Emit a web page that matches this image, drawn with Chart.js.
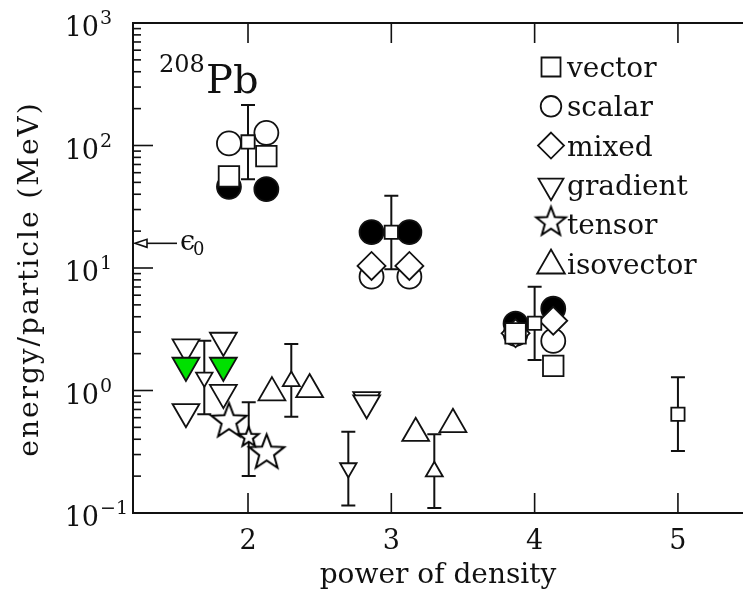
<!DOCTYPE html>
<html>
<head>
<meta charset="utf-8">
<script src="https://cdn.jsdelivr.net/npm/chart.js@4.4.0/dist/chart.umd.min.js"></script>
<style>
  html, body { margin: 0; padding: 0; background: #fff; overflow: hidden; }
  canvas { display: block; }
</style>
</head>
<body>
<canvas id="grafico" width="743" height="590"></canvas>
<script>
// Datos (x = potencia de la densidad, y = energia/particula en MeV)
const vectorX = [1.867, 2.128, 3.867, 4.13];
const vectorY = [56, 82, 2.93, 1.59];
const vectorErrX = [2.0, 3.0, 4.0, 5.0];
const vectorErrY = [107, 19.6, 3.54, 0.64];
const vectorErrLo = [53, 9.76, 1.77, 0.32];
const vectorErrHi = [214, 38.9, 7.03, 1.28];

const scalarX = [1.867, 2.128, 2.862, 3.126, 3.867, 4.13];
const scalarY = [104, 127, 8.5, 8.5, 2.9, 2.54];
const filledX = [1.867, 2.128, 2.862, 3.126, 3.867, 4.13];
const filledY = [46, 44, 19.6, 19.6, 3.51, 4.65];

const mixedX = [2.862, 3.126, 3.867, 4.13];
const mixedY = [10.4, 10.4, 2.93, 3.71];

const gradientX = [1.567, 1.828, 1.567, 1.828, 2.828, 2.828];
const gradientY = [2.26, 2.56, 0.67, 0.96, 0.84, 0.79];
const gradientGreenX = [1.567, 1.828];
const gradientGreenY = [1.60, 1.60];
const gradientErrX = [1.695, 2.70];
const gradientErrY = [1.28, 0.233];
const gradientErrLo = [0.64, 0.115];
const gradientErrHi = [2.55, 0.46];

const tensorX = [1.867, 2.13];
const tensorY = [0.56, 0.31];
const tensorErrX = [2.005];
const tensorErrY = [0.415];
const tensorErrLo = [0.20];
const tensorErrHi = [0.80];

const isovectorX = [2.167, 2.43, 3.17, 3.43];
const isovectorY = [0.96, 1.02, 0.448, 0.53];
const isovectorErrX = [2.302, 3.30];
const isovectorErrY = [1.19, 0.218];
const isovectorErrLo = [0.61, 0.11];
const isovectorErrHi = [2.4, 0.44];

const epsilon0 = 15.9;

const xTicks = [2, 3, 4, 5];
const yDecades = [0.1, 1, 10, 100, 1000];
const yExponents = ['\u22121', '0', '1', '2', '3'];
const legendLabels = ['vector', 'scalar', 'mixed', 'gradient', 'tensor', 'isovector'];

const FONT = '"DejaVu Serif", "Liberation Serif", serif';
const INK = '#111';

function puntos(xs, ys) {
    return xs.map((x, i) => ({ x: x, y: ys[i] }));
}

// Estrella de cinco puntas como imagen para pointStyle
function hacerEstrella(R, lw) {
    const s = Math.ceil(2 * R + 2 * lw + 4);
    const c = document.createElement('canvas');
    c.width = s; c.height = s;
    const g = c.getContext('2d');
    g.beginPath();
    for (let i = 0; i < 10; i++) {
        const r = i % 2 ? R * 0.42 : R;
        const a = -Math.PI / 2 + i * Math.PI / 5;
        g.lineTo(s / 2 + r * Math.cos(a), s / 2 + r * Math.sin(a));
    }
    g.closePath();
    g.fillStyle = '#fff';
    g.fill();
    g.lineWidth = lw;
    g.lineJoin = 'miter';
    g.strokeStyle = '#000';
    g.stroke();
    return c;
}

const estrellaGrande = hacerEstrella(18.5, 2);
const estrellaChica = hacerEstrella(10.5, 2);
const estrellaLeyenda = hacerEstrella(15.5, 2);

function serie(label, data, estilo) {
    return Object.assign({
        label: label,
        data: data,
        showLine: false,
        backgroundColor: '#fff',
        borderColor: INK,
        borderWidth: 1.8,
        pointBorderWidth: 1.8,
        pointHoverRadius: 0
    }, estilo);
}

const datasets = [
    serie('filled', puntos(filledX, filledY), { pointStyle: 'circle', pointRadius: 12, backgroundColor: '#000', order: 6 }),
    serie('scalar', puntos(scalarX, scalarY), { pointStyle: 'circle', pointRadius: 12, order: 5 }),
    serie('mixed', puntos(mixedX, mixedY), { pointStyle: 'rectRot', pointRadius: 14, order: 4 }),
    serie('vector', puntos(vectorX, vectorY), { pointStyle: 'rect', pointRadius: 14.5, order: 3 }),
    serie('vector err', puntos(vectorErrX, vectorErrY), { pointStyle: 'rect', pointRadius: 9.4, order: 1 }),
    serie('gradient', puntos(gradientX, gradientY), { pointStyle: 'triangle', pointRotation: 180, pointRadius: 15.5, order: 3 }),
    serie('gradient green', puntos(gradientGreenX, gradientGreenY), { pointStyle: 'triangle', pointRotation: 180, pointRadius: 15.5, backgroundColor: '#00e000', order: 2 }),
    serie('gradient err', puntos(gradientErrX, gradientErrY), { pointStyle: 'triangle', pointRotation: 180, pointRadius: 9.5, order: 1 }),
    serie('tensor', puntos(tensorX, tensorY), { pointStyle: estrellaGrande, order: 2 }),
    serie('tensor err', puntos(tensorErrX, tensorErrY), { pointStyle: estrellaChica, order: 1 }),
    serie('isovector', puntos(isovectorX, isovectorY), { pointStyle: 'triangle', pointRadius: 15.5, order: 3 }),
    serie('isovector err', puntos(isovectorErrX, isovectorErrY), { pointStyle: 'triangle', pointRadius: 9.8, order: 1 })
];

const barrasError = [
    [vectorErrX, vectorErrLo, vectorErrHi],
    [gradientErrX, gradientErrLo, gradientErrHi],
    [tensorErrX, tensorErrLo, tensorErrHi],
    [isovectorErrX, isovectorErrLo, isovectorErrHi]
];

// Marcadores de la leyenda
function marcador(ctx, tipo, x, y) {
    ctx.save();
    ctx.lineWidth = 1.8;
    ctx.strokeStyle = INK;
    ctx.fillStyle = '#fff';
    ctx.beginPath();
    if (tipo === 'vector') {
        ctx.rect(x - 9.5, y - 9.5, 19, 19);
    } else if (tipo === 'scalar') {
        ctx.arc(x, y, 10.3, 0, Math.PI * 2);
    } else if (tipo === 'mixed') {
        ctx.moveTo(x, y - 13); ctx.lineTo(x + 13, y); ctx.lineTo(x, y + 13); ctx.lineTo(x - 13, y); ctx.closePath();
    } else if (tipo === 'gradient') {
        const r = 14.4;
        ctx.moveTo(x, y + r); ctx.lineTo(x + r * 0.866, y - r / 2); ctx.lineTo(x - r * 0.866, y - r / 2); ctx.closePath();
    } else if (tipo === 'isovector') {
        const r = 16;
        ctx.moveTo(x, y - r); ctx.lineTo(x + r * 0.866, y + r / 2); ctx.lineTo(x - r * 0.866, y + r / 2); ctx.closePath();
    } else if (tipo === 'tensor') {
        ctx.drawImage(estrellaLeyenda, x - estrellaLeyenda.width / 2, y - estrellaLeyenda.height / 2);
        ctx.restore();
        return;
    }
    ctx.fill();
    ctx.stroke();
    ctx.restore();
}

const ejesPlugin = {
    id: 'ejesPlugin',
    beforeDatasetsDraw(chart) {
        const ctx = chart.ctx;
        const xs = chart.scales.x, ys = chart.scales.y;
        ctx.save();
        ctx.strokeStyle = INK;
        ctx.lineWidth = 2;
        barrasError.forEach(([bx, lo, hi]) => {
            bx.forEach((x, i) => {
                const px = xs.getPixelForValue(x);
                const p1 = ys.getPixelForValue(lo[i]);
                const p2 = ys.getPixelForValue(hi[i]);
                ctx.beginPath();
                ctx.moveTo(px, p1); ctx.lineTo(px, p2);
                ctx.moveTo(px - 7, p1); ctx.lineTo(px + 7, p1);
                ctx.moveTo(px - 7, p2); ctx.lineTo(px + 7, p2);
                ctx.stroke();
            });
        });
        ctx.restore();
    },
    afterDraw(chart) {
        const ctx = chart.ctx;
        const a = chart.chartArea;
        const xs = chart.scales.x, ys = chart.scales.y;
        ctx.save();
        ctx.strokeStyle = INK;
        ctx.fillStyle = INK;
        ctx.lineWidth = 2;

        // marco
        ctx.beginPath();
        ctx.moveTo(a.right + 2, a.top); ctx.lineTo(a.left, a.top);
        ctx.lineTo(a.left, a.bottom); ctx.lineTo(a.right + 2, a.bottom);
        ctx.stroke();

        // marcas del eje x (hacia dentro, abajo y arriba)
        ctx.lineWidth = 1.6;
        xTicks.forEach(t => {
            const px = xs.getPixelForValue(t);
            ctx.beginPath();
            ctx.moveTo(px, a.bottom); ctx.lineTo(px, a.bottom - 20);
            ctx.moveTo(px, a.top); ctx.lineTo(px, a.top + 20);
            ctx.stroke();
        });

        // marcas del eje y (logaritmico)
        yDecades.forEach((d, k) => {
            const py = ys.getPixelForValue(d);
            ctx.beginPath();
            ctx.moveTo(a.left, py); ctx.lineTo(a.left + 20, py);
            ctx.stroke();
            if (k < yDecades.length - 1) {
                for (let m = 2; m <= 9; m++) {
                    const pm = ys.getPixelForValue(d * m);
                    ctx.beginPath();
                    ctx.moveTo(a.left, pm); ctx.lineTo(a.left + 8, pm);
                    ctx.stroke();
                }
            }
        });

        // etiquetas de marcas
        ctx.textBaseline = 'alphabetic';
        yDecades.forEach((d, k) => {
            const py = ys.getPixelForValue(d);
            ctx.font = '27px ' + FONT;
            ctx.textAlign = 'right';
            ctx.fillText('10', 99, py + 13);
            ctx.font = '19px ' + FONT;
            ctx.textAlign = 'left';
            ctx.fillText(yExponents[k], 100, py + 1);
        });
        ctx.font = '27px ' + FONT;
        ctx.textAlign = 'center';
        xTicks.forEach(t => {
            ctx.fillText(String(t), xs.getPixelForValue(t), 549);
        });

        // titulos de ejes
        ctx.font = '28px ' + FONT;
        ctx.fillText('power of density', (a.left + a.right) / 2, 583);
        ctx.save();
        ctx.translate(38, (a.top + a.bottom) / 2 + 11);
        ctx.rotate(-Math.PI / 2);
        ctx.letterSpacing = '2px';
        ctx.fillText('energy/particle (MeV)', 0, 0);
        ctx.restore();

        // etiqueta del nucleo
        ctx.textAlign = 'left';
        ctx.font = '24px ' + FONT;
        ctx.fillText('208', 159, 72);
        ctx.font = '40px ' + FONT;
        ctx.fillText('Pb', 206, 93);

        // flecha epsilon_0
        const pe = ys.getPixelForValue(epsilon0);
        ctx.lineWidth = 1.6;
        ctx.beginPath();
        ctx.moveTo(177, pe); ctx.lineTo(a.left + 13, pe);
        ctx.stroke();
        ctx.beginPath();
        ctx.moveTo(a.left + 2, pe); ctx.lineTo(a.left + 14, pe - 4); ctx.lineTo(a.left + 14, pe + 4); ctx.closePath();
        ctx.fillStyle = '#fff';
        ctx.fill();
        ctx.stroke();
        ctx.fillStyle = INK;
        ctx.font = '27px ' + FONT;
        ctx.fillText('\u03f5', 180, pe + 7);
        ctx.font = '18px ' + FONT;
        ctx.fillText('0', 193, pe + 12);

        // leyenda
        legendLabels.forEach((lab, i) => {
            const base = 77 + i * 39.3;
            let my = base - 10;
            if (lab === 'gradient') my = base - 9;
            if (lab === 'isovector') my = base - 8;
            if (lab === 'tensor') my = base - 12;
            marcador(ctx, lab, 551, my);
            ctx.font = '28px ' + FONT;
            ctx.fillStyle = INK;
            ctx.textAlign = 'left';
            ctx.fillText(lab, 567, base);
        });
        ctx.restore();
    }
};

new Chart(document.getElementById('grafico').getContext('2d'), {
    type: 'scatter',
    data: { datasets: datasets },
    options: {
        responsive: false,
        animation: false,
        events: [],
        layout: { autoPadding: false, padding: { left: 133, right: 0, top: 23, bottom: 77 } },
        scales: {
            x: { type: 'linear', min: 1.1975, max: 5.454, display: false },
            y: { type: 'logarithmic', min: 0.1, max: 1000, display: false }
        },
        plugins: {
            legend: { display: false },
            tooltip: { enabled: false }
        }
    },
    plugins: [ejesPlugin]
});
</script>
</body>
</html>
